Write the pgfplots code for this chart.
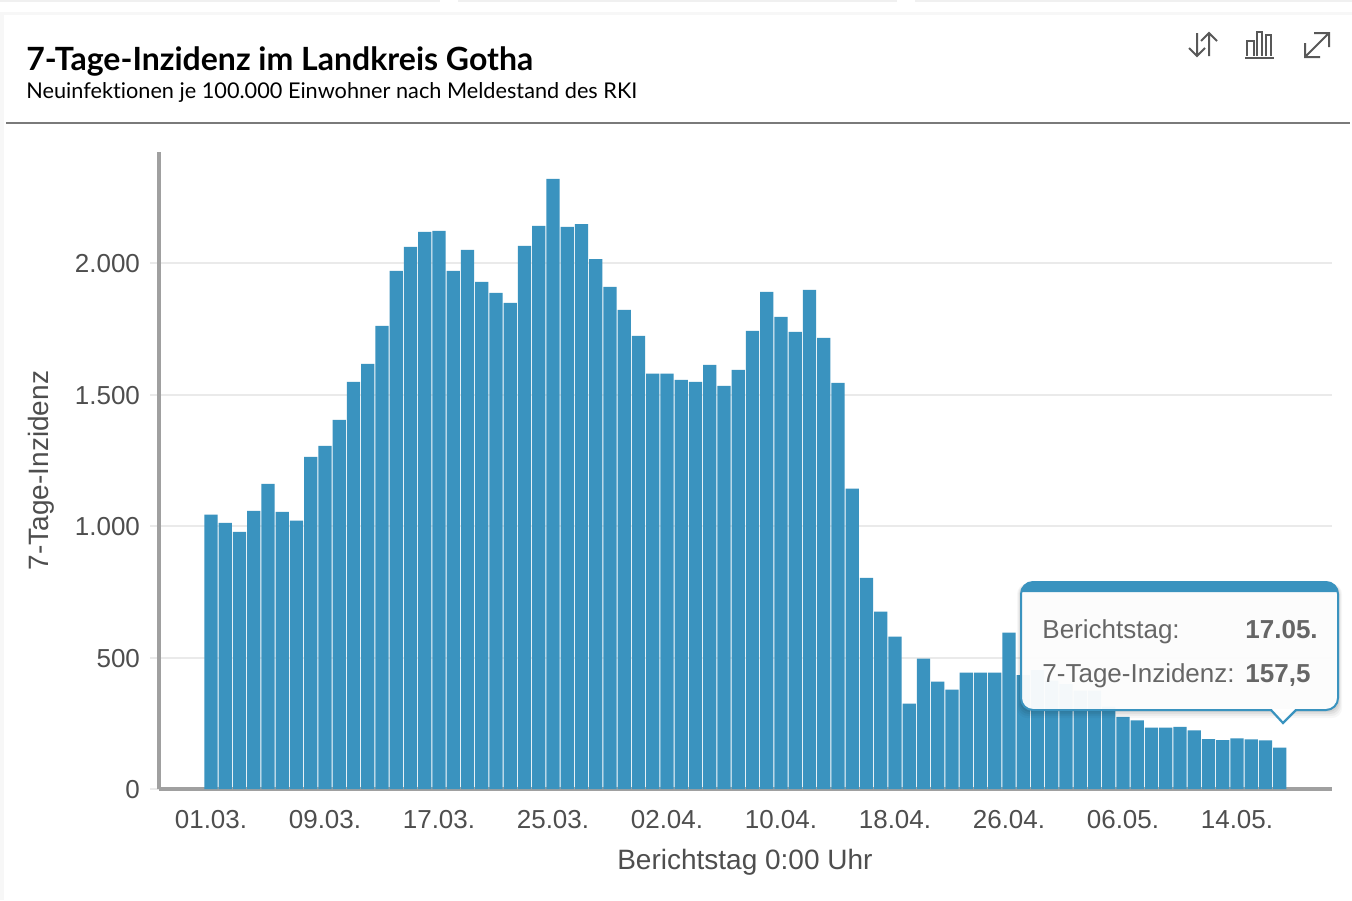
\documentclass[border=0pt]{standalone}
\usepackage{pgfplots}
\pgfplotsset{compat=1.18}
\usepackage{pgfplotstable}
\usepackage{fontspec}
\setmainfont{Liberation Sans}
\newfontfamily\lato[RawFeature={-liga}]{Lato}
\definecolor{barblue}{RGB}{58,147,191}
\definecolor{axgray}{RGB}{160,160,160}
\definecolor{gridc}{RGB}{234,234,234}
\definecolor{txt}{RGB}{78,78,78}
\definecolor{tip}{RGB}{102,102,102}
\definecolor{icon}{RGB}{88,88,88}
\pgfplotstableread{
i v
0 1043
1 1012
2 978
3 1058
4 1160
5 1054
6 1020
7 1263
8 1305
9 1404
10 1548
11 1616
12 1761
13 1970
14 2061
15 2118
16 2122
17 1970
18 2050
19 1928
20 1886
21 1848
22 2065
23 2141
24 2320
25 2137
26 2148
27 2015
28 1909
29 1822
30 1723
31 1579
32 1579
33 1556
34 1548
35 1613
36 1533
37 1594
38 1742
39 1890
40 1795
41 1738
42 1898
43 1715
44 1544
45 1142
46 803
47 674
48 579
49 325
50 496
51 408
52 378
53 443
54 443
55 443
56 595
57 433
58 452
59 412
60 399
61 374
62 374
63 313
64 274
65 261
66 233
67 233
68 236
69 223
70 190
71 186
72 193
73 189
74 185
75 157.5
}\inz
\begin{document}
\begin{tikzpicture}[x=0.5pt,y=-0.5pt]
\useasboundingbox (0,0) rectangle (1352,900);
% page and card
\fill[white] (0,0) rectangle (1352,900);
\fill[black!6] (0,0) rectangle (440,2);
\fill[black!6] (458,0) rectangle (897,2);
\fill[black!6] (915,0) rectangle (1352,2);
\fill[black!3] (0,12) rectangle (1352,15);
\fill[black!3] (0,15) rectangle (4,900);
\draw[line width=0.6pt,color=black!52] (6,123) -- (1350,123);
\node[anchor=base west,inner sep=0pt,text=black] at (26,70) {\lato\bfseries\fontsize{16}{18}\selectfont 7-Tage-Inzidenz im Landkreis Gotha};
\node[anchor=base west,inner sep=0pt,text=black] at (26,98) {\lato\fontsize{10.85}{13}\selectfont Neuinfektionen je 100.000 Einwohner nach Meldestand des RKI};
% icons
\begin{scope}[icon,line width=1pt]
\draw (1197,33) -- (1197,56) (1189,48) -- (1197,56) -- (1205,48);
\draw (1209,56) -- (1209,33) (1201,41) -- (1209,33) -- (1217,41);
\draw (1245,57.5) -- (1274,57.5);
\draw (1247,56) -- (1247,41) -- (1254,41) -- (1254,56);
\draw (1257,56) -- (1257,32) -- (1262,32) -- (1262,56);
\draw (1266,56) -- (1266,35) -- (1271,35) -- (1271,56);
\draw (1305,57) -- (1329,33) (1314,33) -- (1329,33) -- (1329,47) (1305,43) -- (1305,57) -- (1320,57);
\end{scope}
\begin{axis}[
  at={(79.5pt,-394.5pt)}, anchor=south west,
  scale only axis, width=586.5pt, height=318.5pt,
  xmin=-3.649, xmax=78.67, ymin=0, ymax=2422,
  ybar, bar width=6.7pt, bar shift=0pt,
  axis y line=left, axis x line=bottom,
  axis line style={draw=axgray,line width=2pt,-},
  xtick={0,8,16,24,32,40,48,56,64,72},
  xticklabels={01.03.,09.03.,17.03.,25.03.,02.04.,10.04.,18.04.,26.04.,06.05.,14.05.},
  ytick={0,500,1000,1500,2000},
  ymajorgrids, grid style={draw=gridc,line width=1pt},
  xtick style={draw=none},
  ytick style={draw=gridc,line width=1pt},
  major tick length=4.5pt,
  tick align=outside,
  tick label style={font=\fontsize{13}{15}\selectfont,text=txt},
  xticklabel style={yshift=-2.5pt},
  yticklabel style={xshift=-1.5pt,yshift=-0.5pt,/pgf/number format/.cd,1000 sep={.},min exponent for 1000 sep=3,assume math mode=true},
  xlabel={Berichtstag 0:00 Uhr}, ylabel={7-Tage-Inzidenz},
  label style={font=\fontsize{14}{16}\selectfont,text=txt},
  xlabel style={at={(axis description cs:0.4995,0)},anchor=base,yshift=-40pt},
  ylabel style={at={(axis description cs:0,0.5)},anchor=base,yshift=55pt},
  clip=false
]
\addplot[fill=barblue,draw=none] table[x=i,y=v] {\inz};
\end{axis}
% tooltip
\begin{scope}
\foreach \o/\a in {8/0.03,6/0.04,4/0.05,2/0.06}{
  \fill[black,opacity=\a,rounded corners=5pt] (1021-\o/2,584) rectangle (1338+\o/2,710+\o);
}
\path[fill=white,fill opacity=0.95,rounded corners=6pt] (1021,582) rectangle (1338,710);
\fill[white,opacity=.95] (1271,709.5) -- (1283,723) -- (1296,709.5) -- cycle;
\draw[barblue,line width=1pt,rounded corners=6pt] (1021,582) rectangle (1338,710);
\fill[white] (1272,709) rectangle (1295,711.5);
\draw[barblue,line width=1.1pt] (1271,710) -- (1283,723) -- (1296,710);
\fill[barblue] (1021,592) [rounded corners=6pt] -- (1021,582) -- (1338,582) [sharp corners] -- (1338,592) -- cycle;
\node[anchor=base west,inner sep=0pt,text=tip,font=\fontsize{13}{15}\selectfont] at (1042,638) {Berichtstag:};
\node[anchor=base west,inner sep=0pt,text=tip,font=\fontsize{13}{15}\selectfont] at (1042,682) {7-Tage-Inzidenz:};
\node[anchor=base west,inner sep=0pt,text=tip,font=\fontsize{13}{15}\selectfont\bfseries] at (1245,638) {17.05.};
\node[anchor=base west,inner sep=0pt,text=tip,font=\fontsize{13}{15}\selectfont\bfseries] at (1245,682) {157,5};
\end{scope}
\end{tikzpicture}
\end{document}
